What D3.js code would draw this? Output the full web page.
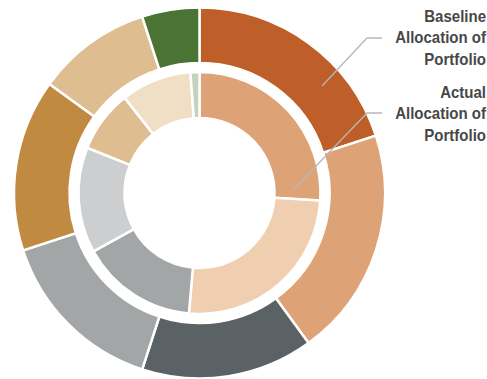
<!DOCTYPE html>
<html><head><meta charset="utf-8">
<script src="https://cdn.jsdelivr.net/npm/d3@7/dist/d3.min.js"></script>
<style>
html,body{margin:0;padding:0;background:#fff;}
svg{display:block;}
text{font-family:"Liberation Sans Narrow","Arial Narrow","Liberation Sans",sans-serif;font-weight:bold;fill:#474747;}
</style></head>
<body><svg id="c" width="487" height="379"></svg>
<script>
const categories = ["Segment A","Segment B","Segment C","Segment D","Segment E","Segment F","Segment G"];
const baselineValues = [20, 20, 15, 15, 15, 10, 5];
const actualValues = [26, 25.4, 15.6, 14.1, 8.3, 9.4, 1.2];
const baselineColors = ["#BE5E29","#DDA276","#5B6265","#A2A6A7","#C08B41","#DEBE91","#4A7334"];
const actualColors = ["#DDA276","#F0CEB0","#A2A6A7","#CDCED0","#DEBE91","#F0DFC4","#C5D3BE"];
const labelBaseline = ["Baseline","Allocation of","Portfolio"];
const labelActual = ["Actual","Allocation of","Portfolio"];

const svg = d3.select("#c");
const cx = 199.5, cy = 193;
const g = svg.append("g").attr("transform", `translate(${cx},${cy})`);
const pie = d3.pie().sort(null).value(d => d.v);

const outerArc = d3.arc().innerRadius(130).outerRadius(185.5);
const innerArc = d3.arc().innerRadius(75).outerRadius(121);

g.selectAll("path.o").data(pie(categories.map((c,i)=>({c, v: baselineValues[i]}))))
  .enter().append("path").attr("class","o")
  .attr("d", outerArc).attr("fill",(d,i)=>baselineColors[i])
  .attr("stroke","#fff").attr("stroke-width",2.5);

g.selectAll("path.i").data(pie(categories.map((c,i)=>({c, v: actualValues[i]}))))
  .enter().append("path").attr("class","i")
  .attr("d", innerArc).attr("fill",(d,i)=>actualColors[i])
  .attr("stroke","#fff").attr("stroke-width",2.5);

// leader lines
const leaders = [
  [[382,38],[367,38],[322,86]],
  [[382,113],[367,113],[294,189]]
];
svg.selectAll("path.l").data(leaders).enter().append("path").attr("class","l")
  .attr("d", d3.line()).attr("fill","none").attr("stroke","#b8b8b8").attr("stroke-width",1.3);

function label(lines, y0){
  const t = svg.append("g").attr("transform","translate(486,0) scale(0.91,1)")
    .append("text").attr("text-anchor","end").attr("font-size",16.5);
  lines.forEach((s,i)=>t.append("tspan").attr("x",0).attr("y",y0+i*21.5).text(s));
}
label(labelBaseline, 22);
label(labelActual, 98);
</script></body></html>
